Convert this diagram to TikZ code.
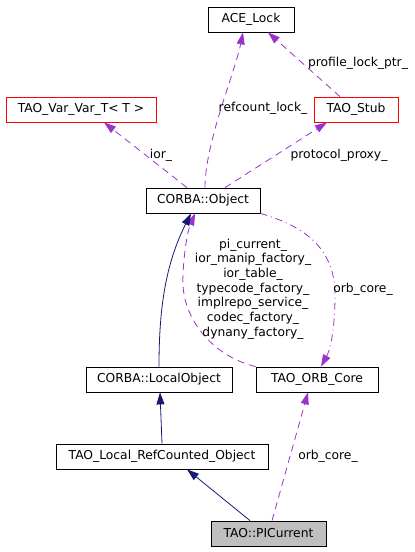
\documentclass[tikz,border=0pt]{standalone}
\usepackage{fontspec}
\setmainfont{DejaVu Sans}
\usetikzlibrary{arrows.meta}
\definecolor{edgepurple}{HTML}{9A32CD}
\definecolor{edgenavy}{HTML}{191970}
\definecolor{boxgray}{HTML}{BFBFBF}
\begin{document}
\begin{tikzpicture}[x=1pt,y=-1pt,
  every node/.style={font=\fontsize{12.3}{14.7}\selectfont},
  cls/.style={draw=black,line width=0.8pt,minimum height=25pt,inner sep=0pt,anchor=center},
  redcls/.style={cls,draw=red},
  usage/.style={draw=edgepurple,line width=0.8pt,dash pattern=on 7pt off 5pt,-{Triangle[length=12pt,width=8pt]}},
  usagedot/.style={draw=edgepurple,line width=0.8pt,dash pattern=on 7pt off 4pt on 1pt off 4pt,-{Triangle[length=12pt,width=8pt]}},
  inherit/.style={draw=edgenavy,line width=0.8pt,-{Triangle[length=12pt,width=8pt]}},
  lbl/.style={inner sep=0pt,align=center}]
\useasboundingbox (0,0) rectangle (415,552);
\node[cls,minimum width=86pt] (ace) at (251,19.5) {ACE\_Lock};
\node[redcls,minimum width=150pt] (var) at (81,109.5) {TAO\_Var\_Var\_T< T >};
\node[redcls,minimum width=84pt] (stub) at (356,109.5) {TAO\_Stub};
\node[cls,minimum width=114pt] (obj) at (203,200.5) {CORBA::Object};
\node[cls,minimum width=146pt] (local) at (159,379.5) {CORBA::LocalObject};
\node[cls,minimum width=122pt] (orb) at (317,379.5) {TAO\_ORB\_Core};
\node[cls,minimum width=212pt] (ref) at (162,456.5) {TAO\_Local\_RefCounted\_Object};
\node[cls,fill=boxgray,minimum width=115pt] (pic) at (268.5,533.5) {TAO::PICurrent};

% usage edges
\draw[usage] ([xshift=2pt]obj.north) .. controls +(0,-45) and +(-8,40) .. ([xshift=-8pt]ace.south);
\node[lbl] (l1) at (263,108) {refcount\_lock\_};
\draw[usage] ([xshift=-16pt]stub.north) -- ([xshift=17pt]ace.south);
\node[lbl] (l2) at (358,63) {profile\_lock\_ptr\_};
\draw[usage] ([xshift=-16pt]obj.north) -- ([xshift=23pt]var.south);
\node[lbl] (l3) at (161,155) {ior\_};
\draw[usage] ([xshift=22pt]obj.north) -- ([xshift=-29pt]stub.south);
\node[lbl] (l4) at (339,155) {protocol\_proxy\_};

\draw[usage] (orb.north west) .. controls (215,357) and (180,320) .. (183,275)
  .. controls (184,250) and (188,230) .. ([xshift=-8pt]obj.south);
\node[lbl] (l5) at (253,289) {pi\_current\_\\ior\_manip\_factory\_\\ior\_table\_\\typecode\_factory\_\\implrepo\_service\_\\codec\_factory\_\\dynany\_factory\_};

\draw[usagedot] (obj.south east) .. controls (300,225) and (335,245) .. (335,295)
  .. controls (335,330) and (330,350) .. ([xshift=4pt]orb.north);
\node[lbl] (l6) at (363,289) {orb\_core\_};

\draw[usage] ([xshift=3.5pt]pic.north) -- ([xshift=-9pt]orb.south);
\node[lbl] (l7) at (328,456) {orb\_core\_};

% inheritance edges
\draw[inherit] (local.north) .. controls (159,310) and (165,265) .. ([xshift=-12pt]obj.south);
\draw[inherit] (ref.north) -- ([xshift=1pt]local.south);
\draw[inherit] ([xshift=-18.5pt]pic.north) -- ([xshift=25pt]ref.south);
\end{tikzpicture}
\end{document}
